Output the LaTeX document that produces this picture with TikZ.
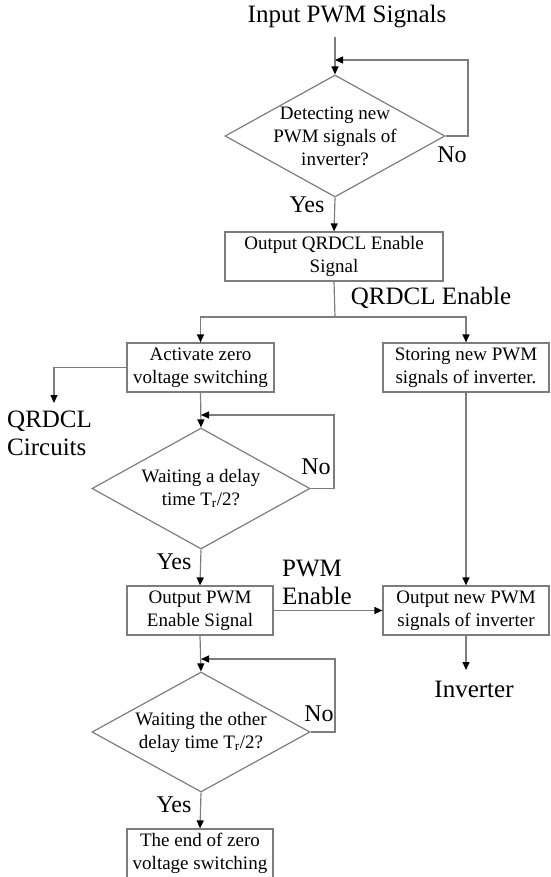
\documentclass[tikz,border=0pt]{standalone}
\usepackage{fontspec}
\setmainfont{Liberation Serif}
\usepackage{tikz}
\usetikzlibrary{shapes.geometric, arrows.meta}
\definecolor{linegray}{RGB}{125, 125, 125}
\newcommand{\boxfont}{\fontsize{19}{23}\selectfont}
\newcommand{\lblfont}{\fontsize{25}{28}\selectfont}

\begin{document}
\begin{tikzpicture}[x=1pt, y=-1pt,
    blk/.style={rectangle, draw=linegray, line width=1.2pt,
                minimum height=49pt, inner sep=0pt, align=center,
                font=\boxfont},
    dec/.style={diamond, draw=linegray, line width=1.2pt,
                minimum width=218pt, minimum height=121pt, inner sep=0pt},
    dectxt/.style={font=\boxfont, align=center, inner sep=0pt},
    lbl/.style={font=\lblfont, inner sep=0pt, align=left},
    yn/.style={font=\fontsize{24}{28}\selectfont, inner sep=0pt},
    ln/.style={line width=1.2pt, draw=linegray},
    arr/.style={-{Triangle[length=8pt, width=7pt, color=black]},
                line width=1.2pt, draw=linegray}]

    \useasboundingbox (0,0) rectangle (550,877);

    % Intrare
    \node[lbl] (inp) at (347,17) {Input PWM Signals};
    \coordinate (inend) at (335,37);

    % Coloana principala
    \node[dec, minimum width=220pt, minimum height=122pt,
          label={[dectxt]center:{Detecting new\\PWM signals of\\inverter?}}]
          (det) at (335,136) {};
    \node[blk, minimum width=218pt] (qen) at (334,256.5)
          {Output QRDCL Enable\\Signal};
    \node[blk, minimum width=147pt] (az) at (200.5,367.5)
          {Activate zero\\voltage switching};
    \node[dec, label={[dectxt]center:{Waiting a delay\\time T\textsubscript{r}/2?}}]
          (wd1) at (201,488.5) {};
    \node[blk, minimum width=146pt] (pen) at (200,610.5)
          {Output PWM\\Enable Signal};
    \node[dec, minimum height=120pt,
          label={[dectxt]center:{Waiting the other\\delay time T\textsubscript{r}/2?}}]
          (wd2) at (201,732) {};
    \node[blk, minimum width=146pt] (fin) at (200,853.5)
          {The end of zero\\voltage switching};

    % Coloana dreapta
    \node[blk, minimum width=166pt] (st) at (466,367.5)
          {Storing new PWM\\signals of inverter.};
    \node[blk, minimum width=166pt] (on) at (466,610.5)
          {Output new PWM\\signals of inverter};
    \node[lbl] (inv) at (474,689) {Inverter};
    \coordinate (invtop) at (466,670);

    % Etichete
    \node[lbl] (qenl) at (431,298) {QRDCL Enable};
    \node[lbl, anchor=north west] (qc) at (7,411) {QRDCL\\Circuits};
    \coordinate (qcin) at (54,403);
    \node[lbl, anchor=west] (penl) at (282,582) {PWM\\Enable};
    \node[yn] (no1) at (452,155) {No};
    \node[yn] (yes1) at (307,205) {Yes};
    \node[yn] (no2) at (316,467) {No};
    \node[yn] (yes2) at (174,562) {Yes};
    \node[yn] (no3) at (319,714) {No};
    \node[yn] (yes3) at (174,805) {Yes};

    % Sageti principale
    \draw[arr] (inend) -- (det.north);
    \draw[arr] (det.south) -- (qen.north);
    \coordinate (sp) at (335,317);
    \draw[ln] (qen.south) -- (sp);
    \draw[arr] (sp) -| (az.north);
    \draw[arr] (sp) -| (st.north);
    \draw[arr] (az.west) -| (qcin);
    \draw[arr] (az.south) -- (wd1.north);
    \draw[arr] (wd1.south) -- (pen.north);
    \draw[arr] (pen.south) -- (wd2.north);
    \draw[arr] (wd2.south) -- (fin.north);
    \draw[arr] (st.south) -- (on.north);
    \draw[arr] (pen.east) -- (on.west);
    \draw[arr] (on.south) -- (invtop);

    % Bucle No
    \coordinate (fb1) at (468,60);
    \draw[arr] (det.east) -| (fb1) -- (fb1 -| det.north);
    \coordinate (fb2) at (334,415);
    \draw[arr] (wd1.east) -| (fb2) -- (fb2 -| wd1.north);
    \coordinate (fb3) at (335,659);
    \draw[arr] (wd2.east) -| (fb3) -- (fb3 -| wd2.north);

\end{tikzpicture}
\end{document}
